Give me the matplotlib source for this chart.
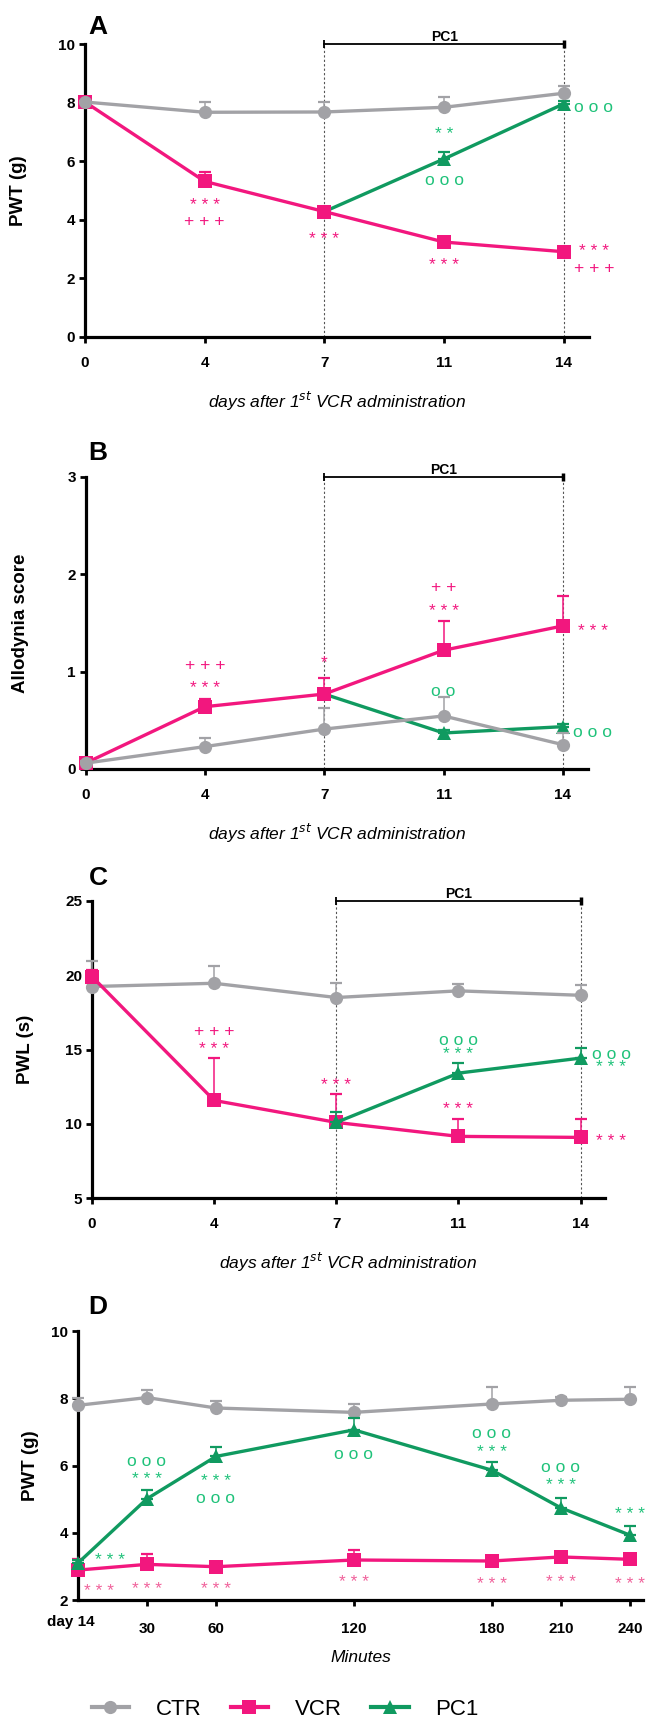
import matplotlib
matplotlib.use("Agg")
import matplotlib.pyplot as plt
from matplotlib.lines import Line2D
import numpy as np

plt.rcParams['font.family'] = ['Liberation Sans', 'DejaVu Sans']

# ---------------- data ----------------
days = ["0", "4", "7", "11", "14"]

# Panel A: PWT (g)
a_ctr = [8.02, 7.67, 7.68, 7.84, 8.32]
a_ctr_err = [0.05, 0.34, 0.33, 0.34, 0.23]
a_vcr = [8.02, 5.31, 4.28, 3.24, 2.91]
a_vcr_err = [0.05, 0.31, 0.08, 0.08, 0.08]
a_pc1 = [4.28, 6.08, 7.96]
a_pc1_err = [0.05, 0.23, 0.08]

# Panel B: Allodynia score
b_ctr = [0.06, 0.23, 0.41, 0.545, 0.25]
b_ctr_err = [0.02, 0.085, 0.22, 0.195, 0.12]
b_vcr = [0.06, 0.64, 0.77, 1.22, 1.47]
b_vcr_err = [0.02, 0.076, 0.17, 0.30, 0.31]
b_pc1 = [0.77, 0.37, 0.435]
b_pc1_err = [0.02, 0.03, 0.03]

# Panel C: PWL (s)
c_ctr = [19.24, 19.46, 18.5, 18.95, 18.65]
c_ctr_err = [1.75, 1.19, 1.0, 0.49, 0.72]
c_vcr = [19.91, 11.57, 10.09, 9.15, 9.08]
c_vcr_err = [0.45, 2.85, 1.91, 1.16, 1.23]
c_pc1 = [10.09, 13.41, 14.42]
c_pc1_err = [0.69, 0.67, 0.65]

# Panel D: PWT (g) over minutes
d_labels = ["day 14", "30", "60", "120", "180", "210", "240"]
d_minutes = [0, 30, 60, 120, 180, 210, 240]
d_ctr = [7.79, 8.02, 7.71, 7.58, 7.83, 7.94, 7.97]
d_ctr_err = [0.23, 0.23, 0.21, 0.26, 0.51, 0.1, 0.35]
d_vcr = [2.89, 3.06, 2.99, 3.19, 3.16, 3.28, 3.21]
d_vcr_err = [0.32, 0.30, 0.1, 0.31, 0.1, 0.1, 0.1]
d_pc1 = [3.1, 5.01, 6.27, 7.06, 5.86, 4.74, 3.93]
d_pc1_err = [0.1, 0.25, 0.29, 0.34, 0.24, 0.28, 0.27]

# ---------------- style ----------------
GREY = "#A2A2A6"
PINK = "#F2177E"
GREEN = "#109A60"
GTXT = "#1FC27A"
PTXT_D = "#F0609A"

fig = plt.figure(figsize=(6.48, 17.19), dpi=100)

def style_axes(ax):
    for s in ["top", "right"]:
        ax.spines[s].set_visible(False)
    for s in ["left", "bottom"]:
        ax.spines[s].set_linewidth(2.3)
    ax.tick_params(axis="both", width=2.0, length=4, labelsize=11, pad=3)
    ax.tick_params(axis="x", pad=10)
    for lab in ax.get_xticklabels() + ax.get_yticklabels():
        lab.set_fontweight("bold")

def series(ax, x, y, err, color, marker, z):
    x = np.asarray(x, float)
    y = np.asarray(y, float)
    e = np.asarray(err, float)
    ax.errorbar(x, y, yerr=[np.zeros_like(e), e], fmt="none", ecolor=color,
                elinewidth=1.1, capsize=4.5, capthick=1.6, zorder=z, clip_on=False)
    ax.plot(x, y, color=color, lw=2.4, marker=marker, markersize=9.5,
            markeredgewidth=0, zorder=z + 0.5, clip_on=False)

def pc1_bar(ax, ytop):
    ax.plot([2, 4], [ytop, ytop], color="black", lw=1.3, clip_on=False, zorder=5)
    ax.plot([2], [ytop], marker="|", color="black", markersize=6, mew=1.3, clip_on=False)
    ax.plot([4], [ytop], marker="|", color="black", markersize=6, mew=2.5, clip_on=False)
    ax.text(3, ytop, "PC1", ha="center", va="bottom", fontsize=10, fontweight="bold")
    y0 = ax.get_ylim()[0]
    for xv in (2, 4):
        ax.plot([xv, xv], [y0, ytop], color="#555555", lw=0.8, ls=(0, (2, 2)), zorder=1)

def ann(ax, x, y, s, color, fs=12.5):
    ax.text(x, y, s, ha="center", va="center", color=color, fontsize=fs, clip_on=False)

def panel_letter(letter, ycenter_px):
    fig.text(98/648, 1 - ycenter_px/1719, letter, fontsize=19, fontweight="bold",
             ha="center", va="center")

xlab = "days after 1$^{st}$ VCR administration"
xi = np.arange(5)

# ---------------- Panel A ----------------
axA = fig.add_axes([85/648, 1-337/1719, (589-85)/648, 293/1719])
axA.set_xlim(0, 4.21); axA.set_ylim(0, 10)
series(axA, xi[2:], a_pc1, a_pc1_err, GREEN, "^", 3)
series(axA, xi, a_vcr, a_vcr_err, PINK, "s", 4)
series(axA, xi, a_ctr, a_ctr_err, GREY, "o", 5)
axA.set_xticks(xi, days)
axA.set_yticks([0, 2, 4, 6, 8, 10])
style_axes(axA)
axA.set_ylabel("PWT (g)", fontsize=13.5, fontweight="bold")
axA.yaxis.set_label_coords(-0.115, 0.5)
axA.set_xlabel(xlab, fontsize=12.5, style="italic", labelpad=14)
pc1_bar(axA, 10)
panel_letter("A", 27)
ann(axA, 1, 4.48, "* * *", PINK); ann(axA, 1, 3.95, "+ + +", PINK)
ann(axA, 2, 3.34, "* * *", PINK)
ann(axA, 3, 6.9, "* *", GTXT); ann(axA, 3, 5.34, "o o o", GTXT); ann(axA, 3, 2.43, "* * *", PINK)
ann(axA, 4.25, 7.82, "o o o", GTXT)
ann(axA, 4.25, 2.91, "* * *", PINK); ann(axA, 4.25, 2.34, "+ + +", PINK)

# ---------------- Panel B ----------------
axB = fig.add_axes([85.5/648, 1-769/1719, (588-85.5)/648, 292/1719])
axB.set_xlim(0, 4.21); axB.set_ylim(0, 3)
series(axB, xi[2:], b_pc1, b_pc1_err, GREEN, "^", 3)
series(axB, xi, b_vcr, b_vcr_err, PINK, "s", 4)
series(axB, xi, b_ctr, b_ctr_err, GREY, "o", 5)
axB.set_xticks(xi, days)
axB.set_yticks([0, 1, 2, 3])
style_axes(axB)
axB.set_ylabel("Allodynia score", fontsize=13.5, fontweight="bold")
axB.yaxis.set_label_coords(-0.112, 0.5)
axB.set_xlabel(xlab, fontsize=12.5, style="italic", labelpad=14)
pc1_bar(axB, 3)
panel_letter("B", 453)
ann(axB, 1, 1.06, "+ + +", PINK); ann(axB, 1, 0.83, "* * *", PINK)
ann(axB, 2, 1.09, "*", PINK)
ann(axB, 3, 1.86, "+ +", PINK); ann(axB, 3, 1.62, "* * *", PINK); ann(axB, 3, 0.80, "o o", GTXT)
ann(axB, 4.25, 1.41, "* * *", PINK); ann(axB, 4.25, 0.37, "o o o", GTXT)

# ---------------- Panel C ----------------
axC = fig.add_axes([92/648, 1-1198/1719, (605-92)/648, 297/1719])
axC.set_xlim(0, 4.2); axC.set_ylim(5, 25)
series(axC, xi, c_ctr, c_ctr_err, GREY, "o", 3)
series(axC, xi, c_vcr, c_vcr_err, PINK, "s", 4)
series(axC, xi[2:], c_pc1, c_pc1_err, GREEN, "^", 5)
axC.set_xticks(xi, days)
axC.set_yticks([5, 10, 15, 20, 25])
style_axes(axC)
axC.set_ylabel("PWL (s)", fontsize=13.5, fontweight="bold")
axC.yaxis.set_label_coords(-0.113, 0.5)
axC.set_xlabel(xlab, fontsize=12.5, style="italic", labelpad=14)
pc1_bar(axC, 25)
panel_letter("C", 878)
ann(axC, 1, 16.21, "+ + +", PINK); ann(axC, 1, 14.98, "* * *", PINK)
ann(axC, 2, 12.56, "* * *", PINK)
ann(axC, 3, 15.58, "o o o", GTXT); ann(axC, 3, 14.66, "* * *", GTXT); ann(axC, 3, 10.94, "* * *", PINK)
ann(axC, 4.25, 14.64, "o o o", GTXT); ann(axC, 4.25, 13.81, "* * *", GTXT)
ann(axC, 4.25, 8.79, "* * *", PINK)

# ---------------- Panel D ----------------
dx = np.asarray(d_minutes, float) / 30.0
axD = fig.add_axes([78/648, 1-1600/1719, (643-78)/648, 269/1719])
axD.set_xlim(0, 8.19); axD.set_ylim(2, 10)
series(axD, dx, d_ctr, d_ctr_err, GREY, "o", 3)
series(axD, dx, d_vcr, d_vcr_err, PINK, "s", 4)
series(axD, dx, d_pc1, d_pc1_err, GREEN, "^", 5)
axD.set_xticks(dx[1:], d_labels[1:])
axD.set_yticks([2, 4, 6, 8, 10])
style_axes(axD)
axD.tick_params(axis="x", pad=12)
axD.text(-0.11, -0.082, d_labels[0], transform=axD.get_xaxis_transform(),
         ha="center", va="center", fontsize=11, fontweight="bold")
axD.set_ylabel("PWT (g)", fontsize=13.5, fontweight="bold")
axD.yaxis.set_label_coords(-0.069, 0.5)
axD.set_xlabel("Minutes", fontsize=12.5, style="italic", labelpad=10)
panel_letter("D", 1307)
ann(axD, 0.46, 3.16, "* * *", GTXT); ann(axD, 0.31, 2.25, "* * *", PTXT_D)
ann(axD, 1, 6.11, "o o o", GTXT); ann(axD, 1, 5.57, "* * *", GTXT); ann(axD, 1, 2.32, "* * *", PTXT_D)
ann(axD, 2, 5.53, "* * *", GTXT); ann(axD, 2, 5.02, "o o o", GTXT); ann(axD, 2, 2.32, "* * *", PTXT_D)
ann(axD, 4, 6.32, "o o o", GTXT); ann(axD, 4, 2.51, "* * *", PTXT_D)
ann(axD, 6, 6.95, "o o o", GTXT); ann(axD, 6, 6.39, "* * *", GTXT); ann(axD, 6, 2.45, "* * *", PTXT_D)
ann(axD, 7, 5.93, "o o o", GTXT); ann(axD, 7, 5.41, "* * *", GTXT); ann(axD, 7, 2.51, "* * *", PTXT_D)
ann(axD, 8, 4.54, "* * *", GTXT); ann(axD, 8, 2.46, "* * *", PTXT_D)

# ---------------- legend ----------------
handles = [
    Line2D([], [], color=GREY, marker="o", lw=3, markersize=9.5, mew=0),
    Line2D([], [], color=PINK, marker="s", lw=3, markersize=9.5, mew=0),
    Line2D([], [], color=GREEN, marker="^", lw=3, markersize=9.5, mew=0),
]
fig.legend(handles, ["CTR", "VCR", "PC1"], loc="center", bbox_to_anchor=(0.44, 10/1719),
           ncol=3, frameon=False, fontsize=16, handlelength=1.7, columnspacing=1.3,
           handletextpad=1.2, borderpad=0)

fig.savefig("out.png", dpi=100)
